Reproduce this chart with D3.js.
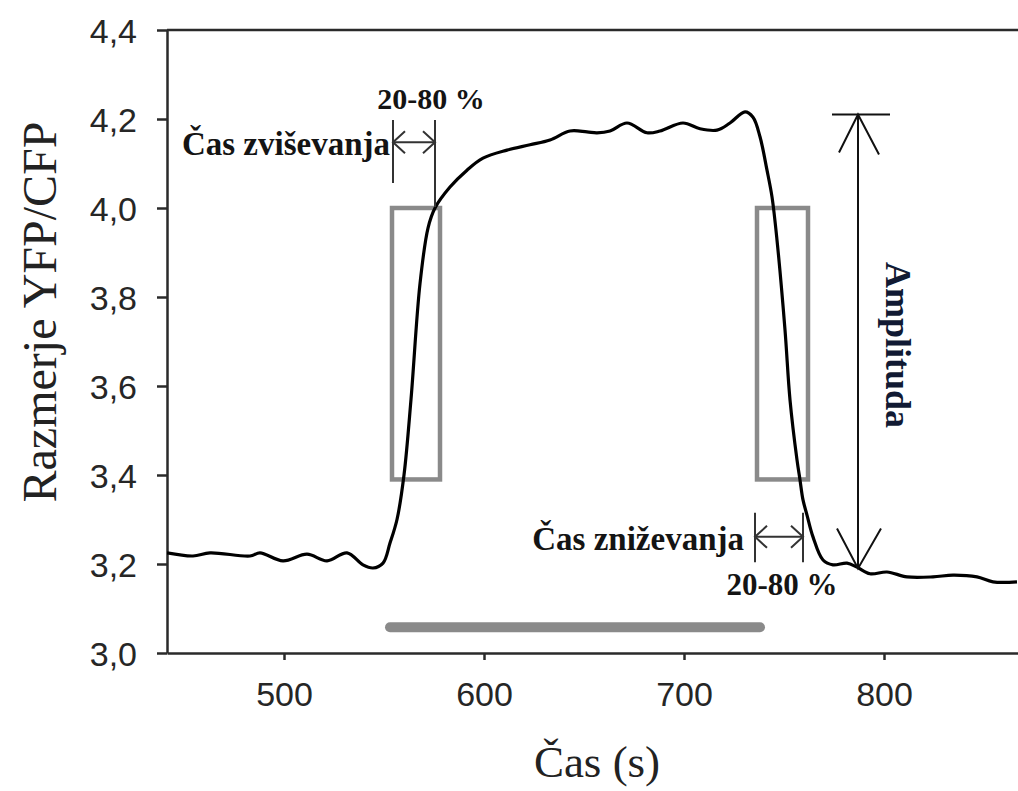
<!DOCTYPE html>
<html>
<head>
<meta charset="utf-8">
<script src="https://cdn.jsdelivr.net/npm/d3@7"></script>
<style>
  body { margin: 0; background: #fff; }
</style>
</head>
<body>
<script>
// podatki odčitani s slike
var time = [441.5, 454.5, 463, 483, 488, 499.5, 511.5, 521.5, 531.5, 539.5, 544.5, 549.5,
  553, 556.5, 560, 563.5, 568, 572, 575.5, 583, 591.5, 599.5, 611.5, 623, 633, 643,
  651.5, 656.5, 663, 671.5, 681.5, 688, 699.5, 708, 716.5, 723, 730.5, 734.5, 738,
  741.5, 744, 746.5, 750.5, 753, 756.5, 758, 759.5, 761.5, 764.5, 769.5, 774.5, 781.5,
  786.5, 793, 801.5, 811.5, 824.5, 834.5, 846.5, 854.5, 866.5];
var ratio = [3.225, 3.218, 3.225, 3.218, 3.225, 3.207, 3.222, 3.207, 3.225, 3.198, 3.191, 3.202,
  3.247, 3.30, 3.40, 3.57, 3.83, 3.955, 4.0, 4.047, 4.085, 4.112, 4.130, 4.142, 4.153, 4.173,
  4.171, 4.169, 4.173, 4.191, 4.169, 4.173, 4.191, 4.178, 4.175, 4.191, 4.216, 4.204, 4.160,
  4.085, 4.025, 3.928, 3.726, 3.569, 3.434, 3.389, 3.344, 3.31, 3.261, 3.209, 3.198, 3.202,
  3.193, 3.178, 3.182, 3.171, 3.171, 3.175, 3.171, 3.160, 3.160];

var xTicks = [500, 600, 700, 800];
var yTicks = [3.0, 3.2, 3.4, 3.6, 3.8, 4.0, 4.2, 4.4];

// oznake (v enotah podatkov)
var riseBox = [554, 578, 3.39, 4.0];
var fallBox = [736.5, 762, 3.39, 4.0];
var stimulus = [553, 738, 3.058];
var amplitude = [787, 3.19, 4.21];

function draw() {
  var width = 1018, height = 791;
  var mLeft = 167, mTop = 30, mRight = 1018, mBottom = 653;

  var svg = d3.select("body").append("svg")
    .attr("width", width)
    .attr("height", height);

  var x = d3.scaleLinear().domain([441.5, 867]).range([mLeft, mRight]);
  var y = d3.scaleLinear().domain([3.0, 4.4]).range([mBottom, mTop]);

  var axisColor = "#2a2a2a";

  // osi
  var gx = svg.append("g")
    .attr("transform", "translate(0," + mBottom + ")")
    .call(d3.axisBottom(x).tickValues(xTicks).tickSize(7).tickPadding(22).tickSizeOuter(0));
  var gy = svg.append("g")
    .attr("transform", "translate(" + mLeft + ",0)")
    .call(d3.axisLeft(y).tickValues(yTicks).tickSize(10).tickPadding(20).tickSizeOuter(0)
      .tickFormat(function (d) { return d3.format(".1f")(d).replace(".", ","); }));

  svg.selectAll(".domain, .tick line")
    .attr("stroke", axisColor)
    .attr("stroke-width", 2.5);
  svg.selectAll(".tick text")
    .attr("fill", "#262626")
    .attr("font-family", "Liberation Sans, Arial, sans-serif")
    .attr("font-size", 34);
  gx.selectAll(".tick text").attr("dy", "0.71em");
  gy.selectAll(".tick text").attr("dy", "0.36em");

  // zgornji rob
  svg.append("line")
    .attr("x1", mLeft).attr("x2", mRight)
    .attr("y1", mTop).attr("y2", mTop)
    .attr("stroke", axisColor)
    .attr("stroke-width", 2.5);

  // naslovi osi
  svg.append("text")
    .attr("transform", "translate(56,312) rotate(-90)")
    .attr("text-anchor", "middle")
    .attr("font-family", "Liberation Serif, Times New Roman, serif")
    .attr("font-size", 48)
    .attr("fill", "#222")
    .text("Razmerje YFP/CFP");

  svg.append("text")
    .attr("x", 597)
    .attr("y", 777)
    .attr("text-anchor", "middle")
    .attr("font-family", "Liberation Serif, Times New Roman, serif")
    .attr("font-size", 45)
    .attr("fill", "#222")
    .text("Čas (s)");

  // sivi okvirji in črta dražljaja
  [riseBox, fallBox].forEach(function (b) {
    svg.append("rect")
      .attr("x", x(b[0]))
      .attr("y", y(b[3]))
      .attr("width", x(b[1]) - x(b[0]))
      .attr("height", y(b[2]) - y(b[3]))
      .attr("fill", "none")
      .attr("stroke", "#8a8a8a")
      .attr("stroke-width", 4.5);
  });

  svg.append("line")
    .attr("x1", x(stimulus[0])).attr("x2", x(stimulus[1]))
    .attr("y1", y(stimulus[2])).attr("y2", y(stimulus[2]))
    .attr("stroke", "#8a8a8a")
    .attr("stroke-width", 10)
    .attr("stroke-linecap", "round");

  // krivulja
  svg.append("clipPath").attr("id", "plot")
    .append("rect")
    .attr("x", mLeft).attr("y", mTop)
    .attr("width", mRight - mLeft).attr("height", mBottom - mTop);

  var line = d3.line()
    .x(function (d) { return x(d[0]); })
    .y(function (d) { return y(d[1]); })
    .curve(d3.curveCatmullRom);

  svg.append("path")
    .datum(time.map(function (t, i) { return [t, ratio[i]]; }))
    .attr("clip-path", "url(#plot)")
    .attr("d", line)
    .attr("fill", "none")
    .attr("stroke", "#000")
    .attr("stroke-width", 3.2)
    .attr("stroke-linejoin", "round");

  // dvojna puščica med dvema navpičnima črtama
  function bracket(t1, t2, vTop, vBot1, vBot2, vArrow) {
    var g = svg.append("g")
      .attr("stroke", "#333")
      .attr("stroke-width", 2)
      .attr("fill", "none");
    var x1 = x(t1), x2 = x(t2), ya = y(vArrow);
    g.append("line").attr("x1", x1).attr("x2", x1).attr("y1", y(vTop)).attr("y2", y(vBot1));
    g.append("line").attr("x1", x2).attr("x2", x2).attr("y1", y(vTop)).attr("y2", y(vBot2));
    g.append("line").attr("x1", x1).attr("x2", x2).attr("y1", ya).attr("y2", ya);
    g.append("path").attr("d", "M" + (x1 + 12) + "," + (ya - 11) + "L" + x1 + "," + ya + "L" + (x1 + 12) + "," + (ya + 11));
    g.append("path").attr("d", "M" + (x2 - 12) + "," + (ya - 11) + "L" + x2 + "," + ya + "L" + (x2 - 12) + "," + (ya + 11));
  }

  bracket(554.5, 575.5, 4.198, 4.056, 4.002, 4.148);
  bracket(735.5, 759.5, 3.315, 3.204, 3.204, 3.261);

  function label(tx, ty, txt, size, anchor) {
    svg.append("text")
      .attr("x", tx).attr("y", ty)
      .attr("text-anchor", anchor)
      .attr("font-family", "Liberation Serif, Times New Roman, serif")
      .attr("font-weight", "bold")
      .attr("font-size", size)
      .attr("fill", "#141414")
      .text(txt);
  }

  label(x(554.5) - 3, 155, "Čas zviševanja", 33, "end");
  label(431, 109, "20-80 %", 30, "middle");
  label(x(735.5) - 11, 550, "Čas zniževanja", 33, "end");
  label(782, 595, "20-80 %", 31, "middle");

  // amplituda
  var ga = svg.append("g")
    .attr("stroke", "#111")
    .attr("stroke-width", 2)
    .attr("fill", "none");
  var xa = x(amplitude[0]), yb = y(amplitude[1]), yt = y(amplitude[2]);
  ga.append("line").attr("x1", xa).attr("x2", xa).attr("y1", yt).attr("y2", yb);
  ga.append("line").attr("x1", xa - 26).attr("x2", xa + 32).attr("y1", yt).attr("y2", yt);
  ga.append("path").attr("d", "M" + (xa - 19) + "," + (yt + 38) + "L" + xa + "," + yt + "L" + (xa + 21) + "," + (yt + 40));
  ga.append("path").attr("d", "M" + (xa - 21) + "," + (yb - 40) + "L" + xa + "," + yb + "L" + (xa + 23) + "," + (yb - 40));

  svg.append("text")
    .attr("transform", "translate(886,345) rotate(90)")
    .attr("text-anchor", "middle")
    .attr("font-family", "Liberation Serif, Times New Roman, serif")
    .attr("font-weight", "bold")
    .attr("font-size", 36)
    .attr("fill", "#111a33")
    .text("Amplituda");
}

draw();
</script>
</body>
</html>
